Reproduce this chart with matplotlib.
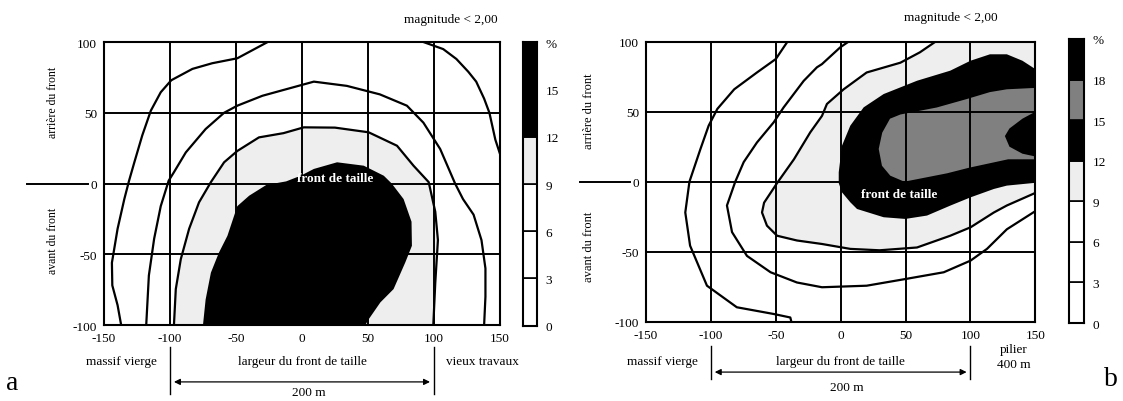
import matplotlib.pyplot as plt
from matplotlib.patches import Polygon

plt.rcParams['font.family'] = ['Liberation Serif', 'DejaVu Serif']
plt.rcParams['axes.unicode_minus'] = False

# map frame
ticks_x = [-150, -100, -50, 0, 50, 100, 150]
ticks_y = [-100, -50, 0, 50, 100]
grid_x = [-100, -50, 0, 50, 100]
grid_y = [-50, 0, 50]

STIPPLE = '#eeeeee'
DARK = '#808080'

# panel a: isolines (x = largeur, y = avant/arriere du front)
a_iso3_left = [(-26, 100), (-49, 88.5), (-68, 85), (-83, 81), (-99, 73), (-107, 64.5),
               (-114.5, 51.5), (-121, 34), (-127, 15), (-131, 2), (-134.6, -11),
               (-139.7, -32), (-144, -56), (-143.7, -72), (-139.7, -86), (-137, -100)]
a_iso3_right = [(92, 100), (107, 95), (117, 88), (126, 79), (132, 72), (138, 60),
                (142, 50), (146.5, 31), (150, 21)]
a_iso6 = [(-118, -100), (-116, -65), (-112, -39), (-107, -16), (-101, 2), (-97, 8),
          (-88, 22), (-73, 38.5), (-59, 50), (-49, 55), (-30, 62), (-16, 65.6),
          (9, 72), (34, 69), (59, 63), (79.5, 55), (92, 43), (104.7, 24.4),
          (116, 0), (122, -11), (130, -22), (136, -40), (139, -60), (139, -80), (138, -100)]
a_iso9 = [(-97, -100), (-95.6, -74.6), (-91.8, -53.4), (-85.5, -32), (-78, -13.3),
          (-69, 1), (-59, 15), (-49, 23), (-32.6, 32.6), (-14, 35.6), (1.4, 39.7),
          (25, 39.5), (50.5, 36.2), (72, 26.7), (84.5, 12.6), (96, 1), (101, -20),
          (103, -40), (101, -70), (99.5, -100)]
a_zone12 = [(-75, -100), (-73, -82), (-69, -63), (-63, -49), (-56.5, -37), (-49, -16),
            (-40, -8.6), (-27, -1), (-12, 1.5), (-1, 5.5), (9, 10.3), (26.6, 15),
            (46.8, 12.6), (62, 5.5), (68, 0), (77, -11), (83, -27), (83.3, -44),
            (78.3, -55.7), (69.4, -74.6), (59.4, -84), (50.5, -96), (48, -100)]

# panel b
b_iso3 = [(-41, 100), (-50, 87.6), (-64.5, 78), (-82, 66), (-95, 52), (-101.7, 40),
          (-108, 23.4), (-116.5, 0), (-119.7, -22), (-116, -45.7), (-103, -74.3),
          (-80, -89.7), (-51.6, -94.5), (-38.8, -97), (-38, -100)]
b_iso6 = [(6, 100), (-0.3, 96), (-14.4, 84), (-18.3, 81.7), (-28.5, 72), (-44, 53),
          (-51.6, 42.4), (-64.5, 28), (-74.7, 14), (-81.2, 0), (-87.6, -17),
          (-83.7, -36), (-72.2, -53), (-54, -64.7), (-33.7, -72), (-14.4, -75.4),
          (20, -74.3), (50, -69.5), (79.4, -64.7), (100, -56.4), (112.7, -48),
          (128, -34), (150, -21)]
b_iso9 = [(73, 100), (61, 92.4), (46, 85), (20, 78), (2.3, 66), (-10.6, 55.5),
          (-14.4, 47), (-23.4, 35.3), (-36, 16), (-49, -1), (-59, -15), (-60.6, -22),
          (-56.8, -31.4), (-49, -38.6), (-33.7, -42), (-14.4, -44.5), (7.4, -48),
          (30, -49), (58.8, -47), (84.4, -38.6), (100, -32.6), (118, -22),
          (128, -17), (150, -8)]
b_zone12 = [(150, 80.4), (140, 86.4), (128, 91), (115, 91), (100, 86.4), (84.4, 79.3),
            (58.8, 72.1), (33.1, 62.6), (17.7, 53.1), (7.4, 40), (1, 25.7), (-1.5, 6.7),
            (-1.5, -1), (1, -7.6), (7.4, -14.7), (12.6, -19.5), (33.1, -25.4),
            (49.8, -26.6), (66.5, -24.2), (84.4, -17.1), (100, -11.2), (118, -5.2),
            (128, -2.8), (150, -0.8)]
b_zone15 = [(150, 67), (128, 66), (115, 64), (97, 59), (74, 53), (46, 48), (38, 45),
            (32, 35), (29.3, 23.4), (31.8, 11.4), (38.2, 4.3), (49, 0), (82, 6),
            (99, 10), (129, 16), (150, 16)]
b_zone18 = [(150, 50), (140, 45), (130, 38), (126.5, 32.6), (130, 25), (140, 20), (150, 18)]

# colour scales
a_levels = [0, 3, 6, 9, 12, 15, 18]
a_level_labels = ['0', '3', '6', '9', '12', '15', '%']
a_colors = ['white', 'white', 'white', STIPPLE, 'black', 'black']
b_levels = [0, 3, 6, 9, 12, 15, 18, 21]
b_level_labels = ['0', '3', '6', '9', '12', '15', '18', '%']
b_colors = ['white', 'white', 'white', STIPPLE, 'black', DARK, 'black']


def fill(ax, pts, color, z):
    ax.add_patch(Polygon(pts, closed=True, facecolor=color, edgecolor='none', zorder=z))


def line(ax, pts):
    xs = [p[0] for p in pts]
    ys = [p[1] for p in pts]
    ax.plot(xs, ys, color='black', lw=1.6, zorder=4, solid_capstyle='round')


def frame(ax, zero_from):
    ax.set_xlim(-150, 150)
    ax.set_ylim(-100, 100)
    ax.set_xticks(ticks_x)
    ax.set_yticks(ticks_y)
    ax.tick_params(length=0, labelsize=9.5, pad=5)
    for v in grid_x:
        ax.axvline(v, color='black', lw=1.4, zorder=3)
    for v in grid_y:
        ax.axhline(v, color='black', lw=1.4, zorder=3)
    for s in ax.spines.values():
        s.set_linewidth(1.5)
        s.set_zorder(5)
    # the front line continues to the left of the map
    ax.plot([zero_from, -0.04], [0, 0], transform=ax.get_yaxis_transform(),
            color='black', lw=1.4, clip_on=False)


def scale(cax, levels, labels, colors):
    for i, c in enumerate(colors):
        cax.bar(0, levels[i + 1] - levels[i], bottom=levels[i], width=1,
                color=c, edgecolor='black', lw=1.2)
    cax.set_xlim(-0.5, 0.5)
    cax.set_ylim(levels[0], levels[-1])
    cax.set_xticks([])
    cax.set_yticks(levels)
    cax.set_yticklabels(labels)
    cax.yaxis.tick_right()
    cax.tick_params(length=0, labelsize=9.5, pad=6)
    for s in cax.spines.values():
        s.set_linewidth(1.5)


def bottom_notes(ax, y_lines, y_arrow, y_text, y_200):
    tr = ax.get_xaxis_transform()
    for v in (-100, 100):
        ax.plot([v, v], y_lines, transform=tr, color='black', lw=1.0, clip_on=False)
    ax.annotate('', xy=(97, y_arrow), xytext=(-97, y_arrow), xycoords=tr,
                arrowprops=dict(arrowstyle='<|-|>', color='black', lw=0.9,
                                mutation_scale=9, shrinkA=0, shrinkB=0))
    ax.text(0, y_text, 'largeur du front de taille', transform=tr, ha='center',
            va='center', fontsize=9.5)
    ax.text(-137, y_text, 'massif vierge', transform=tr, ha='center',
            va='center', fontsize=9.5)
    ax.text(5, y_200, '200 m', transform=tr, ha='center', va='center', fontsize=9.5)


fig = plt.figure(figsize=(11.23, 4.02), dpi=100)

# ---- panel a
ax = fig.add_axes([0.0926, 0.189, 0.3526, 0.704])
fill(ax, a_iso9, STIPPLE, 1)
fill(ax, a_zone12, 'black', 2)
for pts in (a_iso3_left, a_iso3_right, a_iso6, a_iso9):
    line(ax, pts)
frame(ax, -0.195)
ax.text(25, 4, 'front de taille', color='white', fontweight='bold', fontsize=9.5,
        ha='center', va='center', zorder=6)
ax.text(148, 1.081, 'magnitude < 2,00', transform=ax.get_xaxis_transform(),
        ha='right', va='center', fontsize=9.5)
ax.text(-0.13, 58, 'arrière du front', transform=ax.get_yaxis_transform(),
        rotation=90, ha='center', va='center', fontsize=8.5)
ax.text(-0.13, -40, 'avant du front', transform=ax.get_yaxis_transform(),
        rotation=90, ha='center', va='center', fontsize=8.5)
bottom_notes(ax, (-0.078, -0.244), -0.201, -0.127, -0.237)
ax.text(137, -0.127, 'vieux travaux', transform=ax.get_xaxis_transform(),
        ha='center', va='center', fontsize=9.5)

cax = fig.add_axes([0.4657, 0.1873, 0.0125, 0.705])
scale(cax, a_levels, a_level_labels, a_colors)

# ---- panel b
bx = fig.add_axes([0.5752, 0.1973, 0.3468, 0.6965])
fill(bx, b_iso9 + [(150, 100)], STIPPLE, 1)
fill(bx, b_zone12, 'black', 2)
fill(bx, b_zone15, DARK, 2.1)
fill(bx, b_zone18, 'black', 2.2)
for pts in (b_iso3, b_iso6, b_iso9):
    line(bx, pts)
frame(bx, -0.17)
bx.text(45, -9, 'front de taille', color='white', fontweight='bold', fontsize=9.5,
        ha='center', va='center', zorder=6)
bx.text(121, 1.088, 'magnitude < 2,00', transform=bx.get_xaxis_transform(),
        ha='right', va='center', fontsize=9.5)
bx.text(-0.147, 51, 'arrière du front', transform=bx.get_yaxis_transform(),
        rotation=90, ha='center', va='center', fontsize=9)
bx.text(-0.147, -46, 'avant du front', transform=bx.get_yaxis_transform(),
        rotation=90, ha='center', va='center', fontsize=9)
bottom_notes(bx, (-0.087, -0.205), -0.18, -0.14, -0.233)
bx.text(133, -0.097, 'pilier', transform=bx.get_xaxis_transform(),
        ha='center', va='center', fontsize=9.5)
bx.text(133, -0.15, '400 m', transform=bx.get_xaxis_transform(),
        ha='center', va='center', fontsize=9.5)

cbx = fig.add_axes([0.9519, 0.194, 0.0134, 0.7065])
scale(cbx, b_levels, b_level_labels, b_colors)

fig.text(0.011, 0.03, 'a', fontsize=20, ha='center', va='baseline')
fig.text(0.9895, 0.04, 'b', fontsize=20, ha='center', va='baseline')

fig.savefig('out.png', dpi=100, facecolor='white')
